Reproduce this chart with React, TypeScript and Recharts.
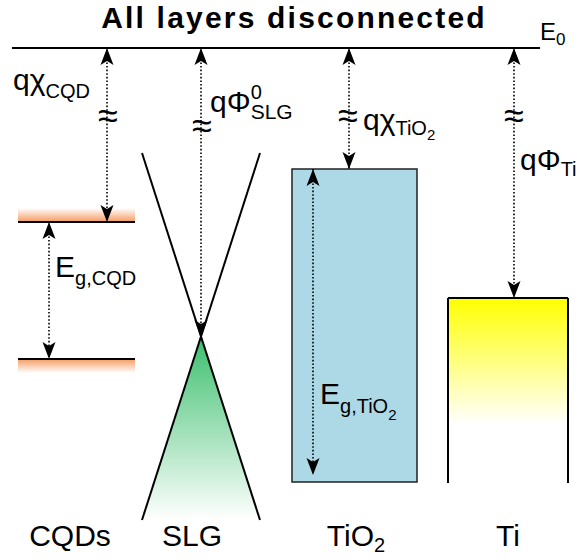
import React from "react";
import {
  ComposedChart,
  XAxis,
  YAxis,
  Line,
  Area,
  Scatter,
  ReferenceLine,
  ReferenceArea,
} from "recharts";

const FONT = '"Liberation Sans", Arial, Helvetica, sans-serif';

// Energies, measured downward from the vacuum level E0 (diagram units)
const vacuumLevel = 0;
const cqdLevels = [174, 311]; // LUMO, HOMO
const diracPoint = 289;
const coneDepth = [105, 472]; // top and bottom ends of the Dirac cone
const tio2Bands = [121, 434]; // conduction band edge, valence band edge
const tiFermi = 250;
const tiBottom = 435;

// Horizontal placement of the columns (diagram units)
const vacuumSpan = [12, 540];
const cqdSpan = [18, 135];
const coneSpan = [142, 260];
const diracX = 201;
const tio2Span = [292, 417];
const tiSpan = [448, 568];

// Dotted double arrows
const arrowX = [107, 49, 201, 349, 313, 514];
const arrowFrom = [vacuumLevel, cqdLevels[0], vacuumLevel, vacuumLevel, tio2Bands[0], vacuumLevel];
const arrowTo = [cqdLevels[0], cqdLevels[1], diracPoint, tio2Bands[0], 427, tiFermi];

// Break marks on the long arrows
const breakX = [108, 202, 348, 514];
const breakY = [80, 90, 80, 80];

// Column names along the bottom
const columnNames = ["CQDs", "SLG", "TiO", "Ti"];
const columnSubs = ["", "", "2", ""];
const columnX = [70, 192, 356, 508];

type Part = { t: string; size: number; dy?: number; dx?: number };
type Note = {
  x: number;
  y: number;
  parts: Part[];
  anchor?: string;
  weight?: string;
  spacing?: number;
};

const notes: Note[] = [
  {
    x: 294,
    y: -20,
    anchor: "middle",
    weight: "bold",
    spacing: 2.2,
    parts: [{ t: "All layers disconnected", size: 30 }],
  },
  { x: 540, y: -8, parts: [{ t: "E", size: 24 }, { t: "0", size: 17, dy: 5 }] },
  { x: 13, y: 42, parts: [{ t: "qχ", size: 30 }, { t: "CQD", size: 20, dy: 8 }] },
  {
    x: 210,
    y: 64,
    parts: [
      { t: "qΦ", size: 30 },
      { t: "0", size: 20, dy: -13 },
      { t: "SLG", size: 21, dy: 7, dx: -11.1 },
    ],
  },
  { x: 363, y: 82, parts: [{ t: "qχ", size: 30 }, { t: "TiO", size: 20, dy: 5 }, { t: "2", size: 15, dy: 10 }] },
  { x: 520, y: 122, parts: [{ t: "qΦ", size: 30 }, { t: "Ti", size: 20, dy: 6 }] },
  { x: 55, y: 229, parts: [{ t: "E", size: 30 }, { t: "g,CQD", size: 20, dy: 8 }] },
  { x: 320, y: 356, parts: [{ t: "E", size: 30 }, { t: "g,TiO", size: 20, dy: 9 }, { t: "2", size: 15, dy: 16 }] },
];

const columnNotes: Note[] = columnNames.map((name, i) => ({
  x: columnX[i],
  y: 498,
  anchor: "middle",
  parts: columnSubs[i]
    ? [{ t: name, size: 30 }, { t: columnSubs[i], size: 20, dy: 6 }]
    : [{ t: name, size: 30 }],
}));

const breakNotes: Note[] = breakX.map((x, i) => ({
  x,
  y: breakY[i],
  anchor: "middle",
  parts: [{ t: "≈", size: 36 }],
}));

function RichText(props: any) {
  const { cx, cy, payload } = props;
  const note: Note = payload;
  let cur = 0;
  return (
    <text
      x={cx}
      y={cy}
      fontFamily={FONT}
      fontSize={note.parts[0].size}
      fontWeight={note.weight || "normal"}
      letterSpacing={note.spacing || 0}
      textAnchor={note.anchor || "start"}
      fill="#000"
    >
      {note.parts.map((p, i) => {
        const target = p.dy || 0;
        const dy = target - cur;
        cur = target;
        return (
          <tspan key={i} dy={dy} dx={p.dx || 0} fontSize={p.size}>
            {p.t}
          </tspan>
        );
      })}
    </text>
  );
}

function ArrowHead(props: any) {
  const { cx, cy, payload } = props;
  const w = 6.5;
  const h = 17;
  const d =
    payload.dir === "up"
      ? `M${cx},${cy} L${cx - w},${cy + h} L${cx},${cy + h - 4} L${cx + w},${cy + h} Z`
      : `M${cx},${cy} L${cx - w},${cy - h} L${cx},${cy - h + 4} L${cx + w},${cy - h} Z`;
  return <path d={d} fill="#000" />;
}

const heads = arrowX.flatMap((x, i) => [
  { x, y: arrowFrom[i], dir: "up" },
  { x, y: arrowTo[i], dir: "down" },
]);

const coneLeft = [
  { x: coneSpan[0], y: coneDepth[0] },
  { x: coneSpan[1], y: coneDepth[1] },
];
const coneRight = [
  { x: coneSpan[1], y: coneDepth[0] },
  { x: coneSpan[0], y: coneDepth[1] },
];
const valenceCone = [
  { x: coneSpan[0], range: [coneDepth[1], coneDepth[1]] },
  { x: diracX, range: [coneDepth[1], diracPoint] },
  { x: coneSpan[1], range: [coneDepth[1], coneDepth[1]] },
];

export default function App() {
  return (
    <div style={{ position: "absolute", left: 0, top: 0, background: "#fff" }}>
      <ComposedChart width={579} height={560} margin={{ top: 0, right: 0, bottom: 0, left: 0 }}>
        <defs>
          <linearGradient id="cqdTop" x1="0" y1="0" x2="0" y2="1">
            <stop offset="0" stopColor="#f59b62" stopOpacity={0} />
            <stop offset="1" stopColor="#f59b62" stopOpacity={1} />
          </linearGradient>
          <linearGradient id="cqdBottom" x1="0" y1="0" x2="0" y2="1">
            <stop offset="0" stopColor="#f59b62" stopOpacity={1} />
            <stop offset="1" stopColor="#f59b62" stopOpacity={0} />
          </linearGradient>
          <linearGradient id="slgGrad" x1="0" y1="0" x2="0" y2="1">
            <stop offset="0" stopColor="#3cbf6e" />
            <stop offset="1" stopColor="#ffffff" />
          </linearGradient>
          <linearGradient id="tiGrad" x1="0" y1="0" x2="0" y2="1">
            <stop offset="0" stopColor="#ffff00" />
            <stop offset="0.68" stopColor="#ffffff" />
          </linearGradient>
        </defs>
        <XAxis type="number" dataKey="x" domain={[0, 579]} hide allowDataOverflow />
        <YAxis type="number" dataKey="y" domain={[-48, 512]} reversed hide allowDataOverflow />

        {/* CQD levels with glow */}
        <ReferenceArea x1={cqdSpan[0]} x2={cqdSpan[1]} y1={cqdLevels[0] - 14} y2={cqdLevels[0]} fill="url(#cqdTop)" fillOpacity={1} stroke="none" />
        <ReferenceArea x1={cqdSpan[0]} x2={cqdSpan[1]} y1={cqdLevels[1]} y2={cqdLevels[1] + 14} fill="url(#cqdBottom)" fillOpacity={1} stroke="none" />
        {cqdLevels.map((lv, i) => (
          <ReferenceLine key={`cqd-${i}`} segment={[{ x: cqdSpan[0], y: lv }, { x: cqdSpan[1], y: lv }]} stroke="#000" strokeWidth={2} />
        ))}

        {/* TiO2 band */}
        <ReferenceArea x1={tio2Span[0]} x2={tio2Span[1]} y1={tio2Bands[0]} y2={tio2Bands[1]} fill="#add8e6" fillOpacity={1} stroke="#222" strokeWidth={1.5} />

        {/* Ti metal */}
        <ReferenceArea x1={tiSpan[0]} x2={tiSpan[1]} y1={tiFermi} y2={tiBottom} fill="url(#tiGrad)" fillOpacity={1} stroke="none" />
        <ReferenceLine segment={[{ x: tiSpan[0], y: tiFermi }, { x: tiSpan[1], y: tiFermi }]} stroke="#000" strokeWidth={2} />
        <ReferenceLine segment={[{ x: tiSpan[0], y: tiFermi }, { x: tiSpan[0], y: tiBottom }]} stroke="#000" strokeWidth={2} />
        <ReferenceLine segment={[{ x: tiSpan[1], y: tiFermi }, { x: tiSpan[1], y: tiBottom }]} stroke="#000" strokeWidth={2} />

        {/* vacuum level */}
        <ReferenceLine segment={[{ x: vacuumSpan[0], y: vacuumLevel }, { x: vacuumSpan[1], y: vacuumLevel }]} stroke="#000" strokeWidth={2} />

        {/* SLG Dirac cone */}
        <Area data={valenceCone} dataKey="range" type="linear" stroke="none" fill="url(#slgGrad)" fillOpacity={1} isAnimationActive={false} legendType="none" />
        <Line data={coneLeft} dataKey="y" type="linear" stroke="#000" strokeWidth={2} dot={false} activeDot={false} isAnimationActive={false} legendType="none" />
        <Line data={coneRight} dataKey="y" type="linear" stroke="#000" strokeWidth={2} dot={false} activeDot={false} isAnimationActive={false} legendType="none" />

        {/* dotted arrows */}
        {arrowX.map((x, i) => (
          <Line
            key={`arrow-${i}`}
            data={[
              { x, y: arrowFrom[i] },
              { x, y: arrowTo[i] },
            ]}
            dataKey="y"
            type="linear"
            stroke="#000"
            strokeWidth={1.6}
            strokeDasharray="1.6 2"
            dot={false}
            activeDot={false}
            isAnimationActive={false}
            legendType="none"
          />
        ))}
        <Scatter data={heads} dataKey="y" shape={ArrowHead} isAnimationActive={false} legendType="none" />

        {/* text */}
        <Scatter data={breakNotes} dataKey="y" shape={RichText} isAnimationActive={false} legendType="none" />
        <Scatter data={notes} dataKey="y" shape={RichText} isAnimationActive={false} legendType="none" />
        <Scatter data={columnNotes} dataKey="y" shape={RichText} isAnimationActive={false} legendType="none" />
      </ComposedChart>
    </div>
  );
}
